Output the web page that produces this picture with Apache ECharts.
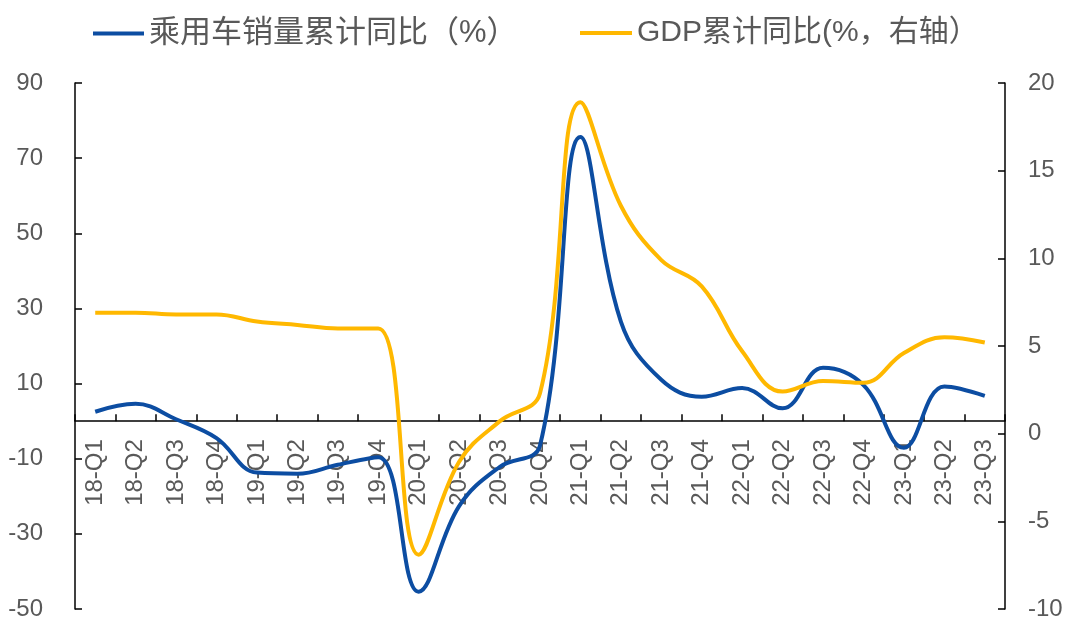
<!DOCTYPE html>
<html>
	<head>
		<meta charset="utf-8" />
		<title></title>
		<script type="text/javascript" src="https://cdn.jsdelivr.net/npm/echarts@6/dist/echarts.min.js"></script>
		<style>
			body { margin: 0; background: #fff; }
		</style>
	</head>
	<body>
		<div id="main" style="width:1068px; height: 621px;"></div>
		<script>
			// 季度
			var quarters = ['18-Q1', '18-Q2', '18-Q3', '18-Q4', '19-Q1', '19-Q2', '19-Q3', '19-Q4',
				'20-Q1', '20-Q2', '20-Q3', '20-Q4', '21-Q1', '21-Q2', '21-Q3', '21-Q4',
				'22-Q1', '22-Q2', '22-Q3', '22-Q4', '23-Q1', '23-Q2', '23-Q3'];
			// 乘用车销量累计同比（%）左轴
			var carSales = [2.5, 4.6, 0.5, -4.5, -13.7, -14.0, -11.6, -9.6,
				-45.4, -22.6, -12.2, -6.5, 75.6, 26.5, 11.0, 6.5,
				8.8, 3.4, 14.2, 9.6, -7.1, 9.2, 6.7];
			// GDP累计同比（%）右轴
			var gdp = [6.9, 6.9, 6.8, 6.8, 6.4, 6.2, 6.0, 6.0,
				-6.9, -1.6, 0.7, 2.3, 18.9, 13.0, 9.9, 8.4,
				4.7, 2.4, 3.0, 2.9, 4.6, 5.5, 5.2];

			var names = ['乘用车销量累计同比（%）', 'GDP累计同比(%，右轴）'];
			var gray = '#595959';
			var font = '"Liberation Sans", Arial, "Noto Sans CJK SC", sans-serif';

			var chartDom = document.getElementById('main');
			var myChart = echarts.init(chartDom);

			// 左轴 0 所在位置：grid 高 526，范围 -50~90
			var zeroOffset = -526 * 50 / 140;

			var option = {
				animation: false,
				textStyle: { fontFamily: font },
				legend: [
					{
						data: [{ name: names[0], icon: 'rect' }],
						left: 88,
						top: 13,
						itemWidth: 51,
						itemHeight: 4,
						itemGap: 8,
						textStyle: { color: gray, fontSize: 31, fontFamily: font }
					},
					{
						data: [{ name: names[1], icon: 'rect' }],
						left: 575,
						top: 13,
						itemWidth: 52,
						itemHeight: 4,
						textStyle: { color: gray, fontSize: 30, fontFamily: font }
					}
				],
				grid: {
					left: 75,
					right: 63,
					top: 83,
					bottom: 12,
					outerBoundsMode: 'none'
				},
				xAxis: {
					type: 'category',
					data: quarters,
					boundaryGap: true,
					position: 'bottom',
					offset: zeroOffset,
					axisLine: { show: true, onZero: false, lineStyle: { color: '#000', width: 1.5 } },
					axisTick: { show: true, inside: true, length: 7, interval: 0, lineStyle: { color: '#000', width: 1.5 } },
					axisLabel: { show: true, rotate: 90, interval: 0, margin: 18, color: gray, fontSize: 24, fontFamily: font },
					splitLine: { show: false }
				},
				yAxis: [
					{
						type: 'value',
						min: -50,
						max: 90,
						interval: 20,
						axisLine: { show: true, lineStyle: { color: '#000', width: 1.5 } },
						axisTick: { show: true, inside: true, length: 7, lineStyle: { color: '#000', width: 1.5 } },
						axisLabel: { margin: 32, color: gray, fontSize: 24, fontFamily: font },
						splitLine: { show: false }
					},
					{
						type: 'value',
						min: -10,
						max: 20,
						interval: 5,
						position: 'right',
						axisLine: { show: true, onZero: false, lineStyle: { color: '#000', width: 1.5 } },
						axisTick: { show: true, inside: true, length: 7, lineStyle: { color: '#000', width: 1.5 } },
						axisLabel: { margin: 23, color: gray, fontSize: 24, fontFamily: font },
						splitLine: { show: false }
					}
				],
				series: [
					{
						name: names[0],
						type: 'line',
						yAxisIndex: 0,
						data: carSales,
						smooth: 0.4,
						showSymbol: false,
						symbol: 'none',
						itemStyle: { color: '#0C4DA2' },
						lineStyle: { color: '#0C4DA2', width: 4 }
					},
					{
						name: names[1],
						type: 'line',
						yAxisIndex: 1,
						data: gdp,
						smooth: 0.4,
						showSymbol: false,
						symbol: 'none',
						itemStyle: { color: '#FFB800' },
						lineStyle: { color: '#FFB800', width: 4 }
					}
				]
			};

			myChart.setOption(option);
		</script>
	</body>
</html>
